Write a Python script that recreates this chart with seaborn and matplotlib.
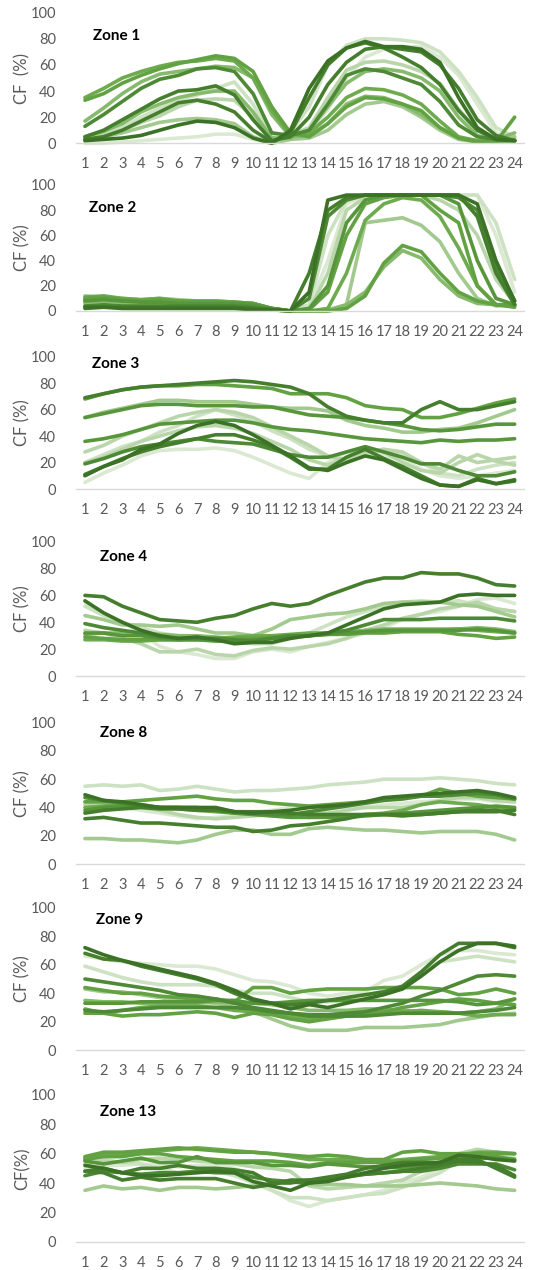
import matplotlib
matplotlib.use("Agg")
import matplotlib.pyplot as plt
import matplotlib.colors as mcolors
import numpy as np
import pandas as pd
import seaborn as sns

sns.set_theme(style="white")
plt.rcParams["font.family"] = ["Lato", "DejaVu Sans"]

hours = list(range(1, 25))
hour_labels = [str(h) for h in hours]
y_ticks = [0, 20, 40, 60, 80, 100]

zone_titles = ["Zone 1", "Zone 2", "Zone 3", "Zone 4", "Zone 8", "Zone 9", "Zone 13"]
y_labels = ["CF  (%)", "CF (%)", "CF (%)", "CF (%)", "CF (%)", "CF (%)", "CF(%)"]

# hourly capacity factor (%) for each month, one list per zone
zone1 = [
    [33, 38, 46, 52, 57, 61, 64, 67, 65, 55, 28, 8, 5, 15, 28, 35, 34, 30, 25, 12, 4, 1, 1, 20],
    [35, 42, 50, 55, 59, 62, 63, 65, 63, 50, 25, 6, 8, 20, 35, 42, 41, 37, 30, 17, 5, 2, 1, 2],
    [17, 27, 38, 47, 53, 55, 57, 59, 58, 50, 22, 5, 6, 15, 30, 36, 35, 30, 22, 12, 4, 2, 3, 8],
    [13, 22, 32, 42, 49, 52, 57, 58, 55, 38, 8, 6, 10, 30, 52, 57, 55, 50, 45, 32, 14, 5, 3, 2],
    [5, 10, 18, 26, 34, 40, 41, 44, 37, 18, 2, 5, 20, 45, 62, 72, 74, 72, 70, 60, 42, 18, 6, 2],
    [3, 5, 10, 17, 24, 31, 33, 30, 24, 10, 1, 8, 35, 60, 73, 77, 73, 66, 58, 45, 25, 10, 3, 2],
    [2, 3, 4, 6, 10, 14, 17, 16, 12, 4, 0, 10, 42, 63, 73, 78, 74, 74, 72, 62, 35, 12, 3, 2],
    [3, 5, 8, 12, 16, 18, 19, 18, 15, 5, 0, 3, 4, 10, 22, 30, 32, 28, 20, 10, 3, 1, 1, 5],
    [2, 6, 12, 20, 27, 33, 37, 42, 47, 30, 5, 8, 28, 60, 75, 80, 80, 79, 77, 70, 55, 35, 12, 5],
    [3, 6, 10, 16, 21, 28, 33, 34, 33, 20, 3, 6, 12, 35, 56, 62, 63, 60, 55, 46, 26, 10, 3, 2],
    [0, 0, 1, 2, 3, 4, 5, 7, 7, 3, 0, 3, 8, 26, 50, 66, 72, 74, 74, 66, 52, 30, 8, 3],
    [5, 9, 15, 24, 30, 35, 38, 40, 40, 24, 4, 4, 10, 28, 46, 55, 57, 55, 50, 40, 20, 6, 2, 3],
]
zone2 = [
    [3, 3, 2, 2, 2, 2, 2, 2, 2, 1, 1, 0, 15, 88, 92, 92, 92, 92, 92, 92, 92, 85, 40, 8],
    [2, 3, 3, 3, 3, 3, 3, 3, 3, 2, 1, 0, 30, 80, 90, 92, 92, 92, 92, 92, 92, 75, 30, 5],
    [5, 6, 5, 5, 5, 5, 4, 4, 4, 3, 1, 0, 5, 60, 88, 92, 92, 92, 92, 92, 92, 92, 70, 25],
    [8, 9, 8, 7, 7, 6, 6, 6, 6, 5, 2, 0, 2, 20, 70, 88, 92, 92, 92, 92, 85, 40, 10, 5],
    [10, 11, 9, 8, 9, 8, 7, 7, 7, 6, 2, 0, 1, 15, 60, 85, 90, 92, 92, 80, 70, 20, 5, 3],
    [11, 12, 10, 9, 10, 8, 8, 8, 7, 6, 2, 0, 0, 2, 30, 72, 85, 90, 88, 75, 50, 20, 5, 5],
    [12, 11, 10, 9, 10, 9, 8, 8, 7, 6, 2, 0, 0, 1, 5, 70, 72, 74, 68, 55, 30, 10, 4, 5],
    [9, 10, 8, 8, 8, 7, 7, 7, 6, 5, 2, 0, 0, 0, 2, 12, 38, 52, 47, 30, 15, 8, 5, 5],
    [7, 8, 7, 7, 7, 6, 6, 6, 6, 5, 2, 0, 0, 0, 5, 15, 35, 48, 42, 25, 12, 6, 5, 4],
    [4, 4, 4, 4, 4, 4, 4, 3, 3, 3, 1, 0, 3, 40, 85, 92, 92, 92, 92, 92, 92, 92, 60, 15],
    [4, 5, 4, 4, 4, 4, 4, 4, 4, 3, 1, 0, 10, 75, 88, 92, 92, 92, 92, 92, 90, 80, 35, 8],
    [6, 7, 6, 6, 6, 5, 5, 5, 5, 4, 1, 0, 1, 30, 80, 90, 92, 92, 92, 88, 80, 60, 25, 6],
]
zone3 = [
    [69, 72, 75, 77, 78, 79, 80, 81, 82, 81, 79, 77, 72, 62, 55, 52, 50, 50, 60, 66, 60, 60, 63, 66],
    [68, 72, 75, 77, 78, 78, 79, 79, 78, 77, 76, 72, 72, 72, 69, 63, 61, 60, 54, 54, 57, 61, 65, 68],
    [54, 57, 60, 63, 64, 64, 63, 63, 63, 62, 62, 59, 56, 55, 54, 52, 50, 48, 45, 44, 45, 47, 49, 49],
    [54, 58, 61, 64, 67, 67, 66, 66, 66, 64, 62, 61, 61, 59, 52, 48, 46, 43, 43, 45, 46, 50, 55, 60],
    [36, 38, 41, 45, 49, 50, 51, 52, 52, 50, 47, 45, 44, 42, 40, 38, 37, 36, 35, 37, 36, 37, 37, 38],
    [28, 33, 40, 45, 50, 55, 58, 60, 58, 54, 47, 40, 33, 25, 22, 28, 30, 28, 20, 15, 25, 20, 22, 24],
    [20, 26, 32, 36, 43, 48, 55, 60, 56, 51, 44, 38, 30, 25, 20, 26, 30, 27, 20, 12, 10, 15, 18, 20],
    [10, 17, 22, 30, 34, 42, 48, 51, 48, 41, 33, 25, 16, 14, 20, 25, 22, 15, 8, 3, 2, 7, 4, 7],
    [11, 17, 23, 28, 32, 35, 38, 41, 41, 37, 32, 24, 15, 15, 24, 30, 23, 17, 10, 3, 2, 8, 4, 6],
    [19, 23, 28, 32, 34, 36, 38, 36, 35, 34, 30, 26, 24, 24, 28, 32, 28, 24, 19, 19, 14, 10, 10, 13],
    [5, 12, 18, 25, 29, 30, 30, 31, 29, 24, 18, 12, 8, 20, 28, 27, 25, 22, 15, 10, 8, 10, 12, 14],
    [20, 24, 30, 36, 40, 44, 47, 48, 46, 42, 36, 30, 22, 18, 24, 30, 28, 20, 14, 12, 20, 26, 21, 18],
]
zone4 = [
    [60, 59, 52, 47, 42, 41, 40, 43, 45, 50, 54, 52, 54, 60, 65, 70, 73, 73, 77, 76, 76, 73, 68, 67],
    [56, 47, 40, 34, 30, 28, 29, 27, 24, 25, 25, 28, 30, 32, 38, 44, 50, 53, 54, 55, 60, 61, 60, 60],
    [52, 45, 40, 36, 32, 30, 28, 27, 25, 24, 24, 28, 32, 38, 44, 48, 52, 55, 56, 55, 56, 53, 50, 48],
    [45, 42, 38, 38, 37, 38, 35, 32, 32, 30, 35, 42, 44, 46, 47, 50, 54, 55, 55, 55, 53, 52, 48, 44],
    [39, 36, 34, 32, 29, 28, 28, 28, 27, 26, 28, 30, 30, 32, 34, 38, 42, 42, 42, 43, 43, 43, 43, 41],
    [32, 32, 30, 30, 28, 27, 27, 26, 26, 27, 28, 30, 30, 31, 32, 33, 34, 34, 34, 34, 34, 35, 34, 32],
    [29, 28, 27, 27, 27, 27, 27, 28, 28, 28, 29, 30, 30, 31, 31, 32, 32, 33, 33, 33, 31, 30, 28, 29],
    [55, 47, 40, 32, 22, 18, 16, 13, 13, 18, 20, 18, 22, 25, 28, 32, 36, 42, 46, 48, 52, 57, 58, 54],
    [34, 32, 28, 24, 18, 18, 20, 16, 15, 19, 21, 20, 22, 24, 28, 34, 38, 43, 46, 50, 52, 55, 50, 48],
    [27, 27, 26, 26, 27, 27, 28, 28, 29, 30, 30, 31, 32, 32, 32, 33, 33, 34, 34, 34, 35, 34, 33, 32],
    [31, 32, 32, 32, 31, 30, 30, 29, 28, 27, 28, 29, 31, 32, 33, 34, 35, 35, 35, 35, 35, 36, 35, 33],
]
zone8 = [
    [55, 56, 55, 56, 52, 53, 55, 53, 51, 52, 52, 53, 54, 56, 57, 58, 60, 60, 60, 61, 60, 59, 57, 56],
    [18, 18, 17, 17, 16, 15, 17, 21, 24, 24, 21, 21, 25, 26, 25, 24, 24, 23, 22, 23, 23, 23, 21, 17],
    [32, 33, 31, 29, 29, 28, 27, 26, 26, 23, 24, 27, 28, 30, 32, 35, 35, 34, 35, 36, 37, 37, 37, 38],
    [49, 45, 44, 42, 40, 40, 40, 40, 37, 36, 37, 38, 40, 41, 42, 44, 47, 48, 49, 50, 51, 52, 50, 47],
    [44, 44, 44, 45, 46, 47, 48, 46, 45, 45, 43, 42, 41, 42, 43, 44, 46, 47, 48, 53, 50, 48, 47, 46],
    [47, 45, 43, 41, 40, 40, 39, 39, 37, 36, 35, 35, 37, 39, 41, 43, 45, 46, 48, 48, 49, 50, 49, 46],
    [42, 42, 42, 40, 38, 35, 33, 32, 33, 34, 35, 35, 36, 36, 38, 40, 40, 40, 42, 45, 47, 47, 45, 44],
    [38, 40, 41, 41, 40, 40, 40, 38, 36, 35, 34, 33, 33, 33, 33, 34, 35, 36, 37, 38, 39, 40, 41, 40],
    [40, 41, 42, 42, 40, 39, 38, 37, 36, 36, 36, 34, 33, 34, 34, 35, 36, 38, 42, 44, 43, 42, 40, 39],
    [36, 38, 39, 40, 39, 39, 38, 38, 37, 37, 37, 36, 35, 35, 35, 35, 35, 35, 35, 36, 37, 38, 38, 35],
    [44, 42, 40, 38, 36, 34, 32, 33, 34, 36, 38, 40, 40, 40, 40, 40, 42, 43, 44, 45, 46, 46, 44, 44],
]
zone9 = [
    [72, 67, 63, 60, 57, 54, 51, 47, 42, 36, 33, 29, 32, 30, 33, 36, 39, 43, 52, 62, 70, 75, 75, 73],
    [68, 64, 63, 59, 56, 53, 50, 46, 40, 35, 33, 32, 33, 35, 37, 39, 41, 45, 55, 67, 75, 75, 75, 72],
    [66, 64, 62, 61, 60, 59, 59, 57, 53, 49, 48, 45, 40, 38, 40, 41, 49, 52, 60, 67, 70, 70, 68, 67],
    [59, 55, 51, 48, 46, 46, 46, 45, 42, 40, 40, 37, 34, 34, 35, 38, 42, 44, 55, 62, 64, 66, 64, 62],
    [50, 48, 46, 44, 42, 39, 38, 36, 33, 30, 28, 26, 25, 25, 26, 27, 30, 33, 38, 42, 47, 52, 53, 52],
    [44, 42, 40, 40, 38, 37, 36, 36, 34, 44, 44, 40, 42, 43, 43, 43, 44, 44, 44, 43, 39, 40, 43, 40],
    [43, 41, 41, 39, 37, 35, 34, 33, 30, 27, 22, 17, 14, 14, 14, 16, 16, 16, 17, 18, 21, 23, 25, 26],
    [33, 33, 33, 34, 34, 34, 34, 35, 35, 33, 33, 34, 35, 35, 35, 35, 35, 35, 35, 35, 34, 32, 33, 36],
    [29, 26, 28, 30, 31, 31, 31, 30, 28, 27, 26, 24, 22, 23, 24, 25, 27, 27, 28, 27, 26, 24, 25, 25],
    [26, 26, 24, 25, 25, 26, 27, 26, 23, 26, 25, 22, 20, 22, 24, 26, 27, 30, 32, 34, 36, 35, 33, 32],
    [28, 27, 28, 29, 30, 30, 30, 30, 30, 29, 27, 26, 24, 24, 24, 24, 25, 26, 26, 26, 26, 27, 28, 30],
    [35, 34, 34, 33, 33, 33, 33, 34, 33, 33, 32, 30, 28, 28, 28, 29, 29, 28, 27, 27, 26, 27, 29, 36],
]
zone13 = [
    [58, 61, 61, 62, 63, 64, 63, 62, 61, 61, 60, 59, 58, 59, 58, 56, 56, 61, 62, 60, 60, 60, 60, 60],
    [57, 60, 60, 61, 62, 63, 64, 63, 62, 61, 60, 58, 56, 56, 56, 55, 55, 56, 57, 58, 59, 61, 61, 60],
    [53, 55, 54, 56, 57, 56, 55, 54, 53, 51, 50, 48, 38, 36, 37, 38, 40, 42, 48, 55, 60, 63, 61, 60],
    [50, 52, 52, 53, 52, 51, 52, 52, 50, 45, 35, 28, 24, 28, 30, 32, 35, 40, 44, 50, 58, 62, 58, 55],
    [55, 56, 54, 53, 50, 47, 48, 48, 45, 40, 35, 30, 30, 28, 30, 32, 33, 37, 42, 47, 55, 60, 58, 57],
    [52, 50, 47, 45, 45, 46, 47, 48, 47, 41, 38, 35, 40, 41, 44, 47, 50, 52, 53, 54, 59, 58, 56, 55],
    [48, 47, 42, 44, 42, 43, 43, 43, 40, 37, 39, 42, 42, 42, 44, 46, 47, 48, 50, 52, 55, 54, 52, 45],
    [55, 53, 55, 57, 54, 54, 58, 54, 54, 54, 52, 52, 51, 53, 52, 51, 51, 50, 51, 54, 58, 57, 57, 56],
    [35, 38, 36, 37, 35, 37, 37, 36, 37, 38, 40, 41, 39, 39, 39, 38, 38, 38, 39, 40, 39, 38, 36, 35],
    [45, 48, 47, 46, 47, 47, 48, 47, 47, 44, 42, 41, 40, 42, 45, 46, 47, 48, 48, 50, 53, 53, 53, 49],
    [48, 50, 47, 50, 50, 52, 50, 50, 49, 47, 40, 40, 42, 44, 46, 50, 52, 54, 54, 54, 56, 56, 50, 44],
    [56, 58, 58, 60, 60, 58, 57, 56, 55, 55, 55, 54, 52, 54, 54, 54, 54, 55, 56, 57, 58, 60, 58, 56],
]

# green shades, darkest to palest
DK0, DK1, DK2 = "#3b7226", "#457e2d", "#4e8a35"
MD0, MD1, MD2 = "#58963c", "#62a243", "#6dab4e"
LT0, LT1, LT2 = "#86ba6c", "#a2c98e", "#b9d6aa"
PL0, PL1 = "#cde2c2", "#dbe9d3"

zone_colors = [
    [MD1, MD2, LT0, DK2, DK1, DK1, DK0, LT1, PL0, LT2, PL1, LT0],
    [DK0, DK1, PL0, MD0, MD1, MD2, LT1, MD1, LT0, PL1, DK2, LT2],
    [DK1, MD1, MD0, LT1, MD0, LT2, PL0, DK0, DK1, DK2, PL1, LT2],
    [DK1, DK0, PL0, LT1, DK2, MD0, MD1, PL1, LT2, MD2, LT0],
    [PL0, LT1, DK1, DK0, MD1, DK2, LT2, MD0, MD2, DK1, PL1],
    [DK0, DK1, PL1, PL0, DK2, MD1, LT1, MD0, MD2, MD1, DK2, LT0],
    [MD1, MD2, LT2, PL1, PL0, DK0, DK1, MD0, LT1, DK2, DK1, MD1],
]
zones = [zone1, zone2, zone3, zone4, zone8, zone9, zone13]

# panel vertical extents in pixels from the top: (value 100, value 0)
panel_px = [(12.7, 143.3), (185, 311), (356.7, 489), (541.7, 676),
            (722.7, 864), (907.7, 1050.3), (1095, 1241.7)]
title_px = [(93, 36), (89, 208), (92, 364), (100, 557), (100, 733), (96, 920), (100, 1112)]

W, H = 537, 1270
fig = plt.figure(figsize=(W / 100, H / 100), dpi=100)
fig.patch.set_facecolor("white")

ax_left, ax_right = 75.6, 524.0
tick_color = "#595959"

for i, (series, colors) in enumerate(zip(zones, zone_colors)):
    top, bot = panel_px[i]
    ax = fig.add_axes([ax_left / W, 1 - bot / H, (ax_right - ax_left) / W, (bot - top) / H])

    rows = []
    for k, vals in enumerate(series):
        for h, v in zip(hours, vals):
            rows.append({"hour": h, "cf": v, "month": k})
    df = pd.DataFrame(rows)

    # paler shades go underneath the darker ones
    lum = [np.mean(mcolors.to_rgb(c)) for c in colors]
    order = sorted(range(len(series)), key=lambda k: -lum[k])
    for k in order:
        sub = df[df["month"] == k]
        sns.lineplot(data=sub, x="hour", y="cf", color=colors[k], linewidth=2.6,
                     ax=ax, legend=False, clip_on=False, solid_joinstyle="round")

    ax.set_xlim(0.5, 24.5)
    ax.set_ylim(0, 100)
    ax.set_xticks(hours)
    ax.set_xticklabels(hour_labels)
    ax.set_yticks(y_ticks)
    ax.tick_params(axis="both", length=0, labelsize=10.5, colors=tick_color)
    ax.tick_params(axis="x", pad=10)
    ax.tick_params(axis="y", pad=14)
    for s in ["top", "right", "left"]:
        ax.spines[s].set_visible(False)
    ax.spines["bottom"].set_color("#d9d9d9")
    ax.spines["bottom"].set_linewidth(1.0)
    ax.set_xlabel("")
    ax.set_ylabel(y_labels[i], fontsize=12, color=tick_color)
    ax.yaxis.set_label_coords(-0.10, 0.5)
    ax.set_facecolor("white")

    tx, ty = title_px[i]
    fig.text(tx / W, 1 - ty / H, zone_titles[i], fontsize=11, fontweight="bold",
             color="black", ha="left", va="center")

fig.savefig("out.png", dpi=100, facecolor="white")
